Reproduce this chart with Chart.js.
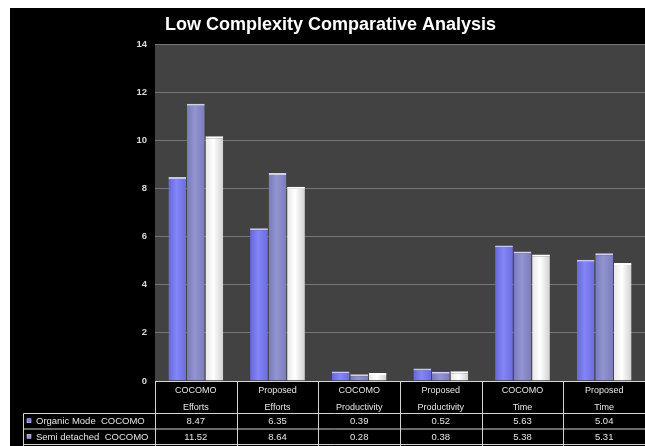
<!DOCTYPE html>
<html>
<head>
<meta charset="utf-8">
<script src="https://cdn.jsdelivr.net/npm/chart.js@4.4.0/dist/chart.umd.min.js"></script>
<style>
  html, body { margin: 0; padding: 0; background: #fff; }
  canvas { display: block; }
</style>
</head>
<body>
<canvas id="c" width="645" height="446"></canvas>
<script>
// Categories (two-line axis labels) and series values
const categories = [
  ["COCOMO", "Efforts"], ["Proposed", "Efforts"],
  ["COCOMO", "Productivity"], ["Proposed", "Productivity"],
  ["COCOMO", "Time"], ["Proposed", "Time"]
];
const seriesNames = ["Organic Mode  COCOMO", "Semi detached  COCOMO", "Embedded  COCOMO"];
const organic = [8.47, 6.35, 0.39, 0.52, 5.63, 5.04];
const semiDetached = [11.52, 8.64, 0.28, 0.38, 5.38, 5.31];
const embedded = [10.17, 8.07, 0.33, 0.40, 5.26, 4.90];
const yTicks = [0, 2, 4, 6, 8, 10, 12, 14];

const CAT_PCT = 0.68;
const BAR_PCT = 0.96;
const FONT = "'Liberation Sans', Arial, sans-serif";

// Horizontal shading across each bar (edge - centre - edge)
function barFill(stops) {
  return (ctx) => {
    const chart = ctx.chart;
    const xs = chart.scales.x;
    if (ctx.type !== 'data' || !xs || !chart.chartArea) return stops[1];
    const n = chart.data.datasets.length;
    const catW = xs.width / chart.data.labels.length;
    const groupW = catW * CAT_PCT;
    const slot = groupW / n;
    const left = xs.getPixelForValue(ctx.dataIndex) - groupW / 2 + ctx.datasetIndex * slot;
    const g = chart.ctx.createLinearGradient(left, 0, left + slot, 0);
    g.addColorStop(0, stops[0]);
    g.addColorStop(0.45, stops[1]);
    g.addColorStop(1, stops[2]);
    return g;
  };
}

const seriesColors = [
  { fill: ['#6466d8', '#8486f8', '#6a6cdc'], cap: '#c4c5ff', key: '#7577ee' },
  { fill: ['#7778b6', '#9394d2', '#7a7bb8'], cap: '#cfd0f2', key: '#8e8fd0' },
  { fill: ['#e6e6e6', '#ffffff', '#cfcfcf'], cap: '#ffffff', key: '#f0f0f0' }
];
const seriesData = [organic, semiDetached, embedded];

// Dark frame, plot panel and the data table beneath the axis
const panelPlugin = {
  id: 'panelTable',
  beforeDraw(chart) {
    const c = chart.ctx, a = chart.chartArea;
    c.save();
    c.fillStyle = '#ffffff';
    c.fillRect(0, 0, chart.width, chart.height);
    c.fillStyle = '#000000';
    c.fillRect(10, 8, chart.width - 10, chart.height - 8);
    c.fillStyle = '#424242';
    c.fillRect(a.left, a.top, a.right - a.left, a.bottom - a.top);
    c.restore();
  },
  afterDraw(chart) {
    const c = chart.ctx, a = chart.chartArea, xs = chart.scales.x;
    const nCat = chart.data.labels.length;
    const catW = xs.width / nCat;
    const rowTop = 413.5, rowH = 15.5, tableLeft = 23.5;
    const nRows = chart.data.datasets.length;
    const tableBottom = rowTop + rowH * nRows;
    c.save();
    c.strokeStyle = '#d4d4d4';
    c.lineWidth = 1;
    c.beginPath();
    // axis line / header top
    c.moveTo(a.left, Math.round(a.bottom) + 0.5);
    c.lineTo(a.right, Math.round(a.bottom) + 0.5);
    // row lines
    for (let r = 0; r <= nRows; r++) {
      const y = rowTop + r * rowH;
      c.moveTo(tableLeft, y);
      c.lineTo(a.right, y);
    }
    // column dividers
    for (let i = 0; i <= nCat; i++) {
      const x = Math.round(xs.getPixelForValue(i) - catW / 2) + 0.5;
      c.moveTo(x, a.bottom);
      c.lineTo(x, tableBottom);
    }
    c.moveTo(tableLeft, rowTop);
    c.lineTo(tableLeft, tableBottom);
    c.stroke();

    // row contents
    c.font = '9.5px ' + FONT;
    c.textBaseline = 'middle';
    chart.data.datasets.forEach((ds, r) => {
      const yMid = rowTop + r * rowH + rowH / 2 + 0.5;
      c.fillStyle = seriesColors[r].key;
      c.fillRect(27, yMid - 3, 4, 4);
      c.strokeStyle = '#e8e8ff';
      c.lineWidth = 0.5;
      c.strokeRect(27, yMid - 3, 4, 4);
      c.fillStyle = '#e4e4e4';
      c.textAlign = 'left';
      c.fillText(ds.label, 36, yMid);
      c.textAlign = 'center';
      ds.data.forEach((v, i) => {
        c.fillText(v.toFixed(2), xs.getPixelForValue(i), yMid);
      });
    });
    c.restore();
  }
};

new Chart(document.getElementById('c'), {
  type: 'bar',
  data: {
    labels: categories,
    datasets: seriesData.map((d, i) => ({
      label: seriesNames[i],
      data: d,
      backgroundColor: barFill(seriesColors[i].fill),
      borderColor: seriesColors[i].cap,
      borderWidth: { top: 2, left: 0, right: 0, bottom: 0 },
      borderSkipped: 'bottom',
      categoryPercentage: CAT_PCT,
      barPercentage: BAR_PCT
    }))
  },
  options: {
    responsive: false,
    animation: false,
    devicePixelRatio: 1,
    layout: { padding: { left: 16, right: 0, top: 0, bottom: 0 } },
    plugins: {
      legend: { display: false },
      tooltip: { enabled: false },
      title: {
        display: true,
        text: 'Low Complexity Comparative Analysis',
        color: '#ffffff',
        font: { family: FONT, size: 18, weight: 'bold', lineHeight: 1.2 },
        padding: { top: 14, bottom: 8.4 }
      }
    },
    scales: {
      x: {
        grid: { display: false, drawTicks: false },
        border: { display: false },
        ticks: {
          color: '#e6e6e6',
          font: { family: FONT, size: 9, lineHeight: 1.9 },
          padding: 1,
          maxRotation: 0,
          autoSkip: false
        },
        afterFit(s) { s.height = 65; }
      },
      y: {
        min: 0,
        max: 14,
        afterBuildTicks(s) { s.ticks = yTicks.map(v => ({ value: v })); },
        grid: { color: '#767676', lineWidth: 1, drawTicks: false },
        border: { display: false },
        ticks: {
          color: '#d8d8d8',
          font: { family: FONT, size: 9.5, weight: 'bold' },
          padding: 8
        },
        afterFit(s) { s.width = 139; }
      }
    }
  },
  plugins: [panelPlugin]
});
</script>
</body>
</html>
